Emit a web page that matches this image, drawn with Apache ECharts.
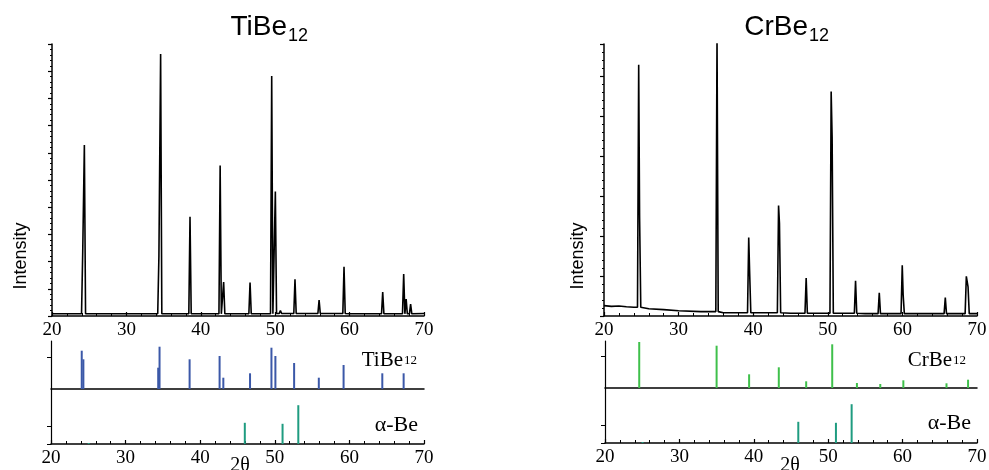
<!DOCTYPE html>
<html><head><meta charset="utf-8">
<script src="https://cdn.jsdelivr.net/npm/echarts@6/dist/echarts.min.js"></script>
<style>html,body{margin:0;padding:0;background:#fff}#c{width:989px;height:470px}</style>
</head><body><div id="c"></div>
<script>
// ---------- data ----------
// TiBe12 measured pattern (peak 2θ, intensity 0-100 scale)
const tiPeakPos = [24.13, 24.35, 34.37, 34.60, 38.55, 42.60, 43.07, 46.62, 49.53, 50.02, 50.70, 52.66, 55.90, 59.25, 64.45, 67.27, 67.60, 68.20];
const tiPeakInt = [23.5, 62.9, 22.0, 96.3, 36.5, 55.3, 12.5, 12.3, 88.2, 45.8, 2.0, 13.5, 5.9, 18.1, 8.8, 15.4, 6.2, 4.4];
const tiBgX = [20, 30, 40, 50, 60, 70];
const tiBgY = [0.8, 0.8, 0.8, 0.9, 0.8, 0.9];
// CrBe12 measured pattern (intensity 0-68 scale)
const crPeakPos = [24.65, 24.77, 35.15, 39.40, 39.52, 43.40, 43.52, 47.10, 50.45, 50.58, 53.72, 56.90, 59.98, 60.10, 65.75, 68.57, 68.80];
const crPeakInt = [62.8, 24.8, 70.0, 19.6, 11.1, 27.6, 23.2, 9.5, 56.1, 44.6, 8.8, 5.8, 12.7, 5.3, 4.6, 9.9, 7.3];
const crBgX = [20, 21, 22, 23, 24, 26, 28, 30, 33, 36, 45, 55, 70];
const crBgY = [2.6, 2.4, 2.5, 2.3, 2.2, 1.8, 1.6, 1.3, 1.1, 0.8, 0.7, 0.6, 0.6];
// reference stick patterns
const tiStickPos = [24.12, 24.34, 34.37, 34.55, 38.58, 42.60, 43.10, 46.68, 49.55, 50.08, 52.59, 55.90, 59.22, 64.41, 67.27];
const tiStickInt = [38.3, 29.7, 21.3, 42.3, 29.7, 33.0, 11.3, 15.7, 41.3, 33.0, 26.0, 11.3, 24.0, 15.7, 15.7];
const crStickPos = [24.60, 35.00, 39.37, 43.36, 47.04, 50.54, 53.86, 57.00, 60.10, 65.90, 68.80];
const crStickInt = [46.0, 42.3, 13.7, 20.7, 6.7, 43.7, 5.0, 4.0, 7.7, 4.7, 8.3];
const beStickPos = [25.05, 45.98, 51.04, 53.15];
const beStickInt = [1.0, 21.2, 20.2, 38.8];
const xMin = 20, xMax = 70, xStep = 10;

// ---------- build ----------
function xrd(pos, inten, bgX, bgY, hw) {
  const bgAt = x => { let v = bgY[0]; bgX.forEach((b, i) => { if (b <= x) v = bgY[i]; }); return v; };
  const inside = (x, skip) => pos.some((c, j) => j !== skip && Math.abs(x - c) < hw);
  const pts = [];
  bgX.forEach((x, i) => { if (!inside(x, -1)) pts.push([x, bgY[i]]); });
  pos.forEach((c, i) => {
    pts.push([c, inten[i]]);
    [c - hw, c + hw].forEach(f => { if (!inside(f, i)) pts.push([f, bgAt(f)]); });
  });
  return pts.sort((a, b) => a[0] - b[0]);
}
const sticks = (p, v) => p.map((x, i) => [x, v[i]]);

const serif = '"Liberation Serif", "DejaVu Serif", serif';
const sans = '"Liberation Sans", Arial, sans-serif';
const black = '#000';

const grids = [
  {left: 52, top: 44, width: 372, height: 272},
  {left: 51, top: 341, width: 373, height: 48},
  {left: 51, top: 389, width: 373, height: 55},
  {left: 604, top: 44, width: 373, height: 272},
  {left: 605, top: 341, width: 372, height: 47},
  {left: 605, top: 388, width: 372, height: 55}
].map(g => Object.assign(g, {outerBoundsMode: 'none', containLabel: false}));

function xAx(gi, kind) {
  const base = {
    type: 'value', gridIndex: gi, min: xMin, max: xMax, interval: xStep,
    axisLine: {show: true, onZero: false, lineStyle: {color: black, width: 1.5}},
    splitLine: {show: false}
  };
  if (kind === 'mid') {
    return Object.assign(base, {axisTick: {show: false}, axisLabel: {show: false}});
  }
  return Object.assign(base, {
    axisTick: {show: true, inside: true, length: 4, lineStyle: {color: black, width: 1.2}},
    minorTick: {show: true, splitNumber: 5, length: 3, lineStyle: {color: black, width: 1}},
    axisLabel: {show: true, color: black, fontFamily: serif, fontSize: 19, margin: 5}
  });
}
function yTop(gi, max) {
  return {
    type: 'value', gridIndex: gi, min: 0, max: max, interval: 10,
    axisLine: {show: true, onZero: false, lineStyle: {color: black, width: 1.5}},
    axisTick: {show: true, inside: false, length: 4, lineStyle: {color: black, width: 1.2}},
    minorTick: {show: true, splitNumber: 5, length: 2, lineStyle: {color: black, width: 1}},
    axisLabel: {show: false}, splitLine: {show: false}
  };
}
function yStick(gi, max, tickVals) {
  return {
    type: 'value', gridIndex: gi, min: 0, max: max,
    axisLine: {show: true, onZero: false, lineStyle: {color: black, width: 1.2}},
    axisTick: {show: true, inside: false, length: 4, customValues: tickVals, lineStyle: {color: black, width: 1}},
    axisLabel: {show: false}, splitLine: {show: false}
  };
}
function label(x, y, text, align, font, size) {
  return {type: 'text', x: x, y: y, style: {text: text, align: align, verticalAlign: 'middle',
    fontFamily: font, fontSize: size, fill: black}};
}

const option = {
  animation: false,
  backgroundColor: '#fff',
  grid: grids,
  xAxis: [xAx(0, 'top'), xAx(1, 'mid'), xAx(2, 'bottom'), xAx(3, 'top'), xAx(4, 'mid'), xAx(5, 'bottom')],
  yAxis: [yTop(0, 100), yStick(1, 48, [32]), yStick(2, 55, [0, 18]),
          yTop(3, 68), yStick(4, 47, [32]), yStick(5, 55, [0, 18])],
  series: [
    {type: 'line', xAxisIndex: 0, yAxisIndex: 0, data: xrd(tiPeakPos, tiPeakInt, tiBgX, tiBgY, 0.16),
     showSymbol: false, lineStyle: {color: black, width: 1.6}, clip: true},
    {type: 'line', xAxisIndex: 3, yAxisIndex: 3, data: xrd(crPeakPos, crPeakInt, crBgX, crBgY, 0.16),
     showSymbol: false, lineStyle: {color: black, width: 1.6}, clip: true},
    {type: 'bar', xAxisIndex: 1, yAxisIndex: 1, data: sticks(tiStickPos, tiStickInt), barWidth: 2,
     itemStyle: {color: '#3b58a8'}},
    {type: 'bar', xAxisIndex: 4, yAxisIndex: 4, data: sticks(crStickPos, crStickInt), barWidth: 2,
     itemStyle: {color: '#3fc04b'}},
    {type: 'bar', xAxisIndex: 2, yAxisIndex: 2, data: sticks(beStickPos, beStickInt), barWidth: 2,
     itemStyle: {color: '#1f9c80'}},
    {type: 'bar', xAxisIndex: 5, yAxisIndex: 5, data: sticks(beStickPos, beStickInt), barWidth: 2,
     itemStyle: {color: '#1f9c80'}}
  ],
  graphic: [
    label(287, 27, 'TiBe', 'right', sans, 28),
    label(288, 36, '12', 'left', sans, 18),
    label(808, 27, 'CrBe', 'right', sans, 28),
    label(809, 36, '12', 'left', sans, 18),
    {type: 'text', x: 21, y: 256, rotation: Math.PI / 2, style: {text: 'Intensity', align: 'center', verticalAlign: 'middle',
      fontFamily: sans, fontSize: 18, fill: black}},
    {type: 'text', x: 578, y: 256, rotation: Math.PI / 2, style: {text: 'Intensity', align: 'center', verticalAlign: 'middle',
      fontFamily: sans, fontSize: 18, fill: black}},
    label(403, 360, 'TiBe', 'right', serif, 21),
    label(404, 361, '12', 'left', serif, 13),
    label(952, 360, 'CrBe', 'right', serif, 21),
    label(953, 361, '12', 'left', serif, 13),
    label(418, 425, 'α-Be', 'right', serif, 22),
    label(971, 423, 'α-Be', 'right', serif, 22),
    label(240, 466, '2θ', 'center', serif, 20),
    label(790, 466, '2θ', 'center', serif, 20)
  ]
};
echarts.init(document.getElementById('c')).setOption(option);
</script>
</body></html>
